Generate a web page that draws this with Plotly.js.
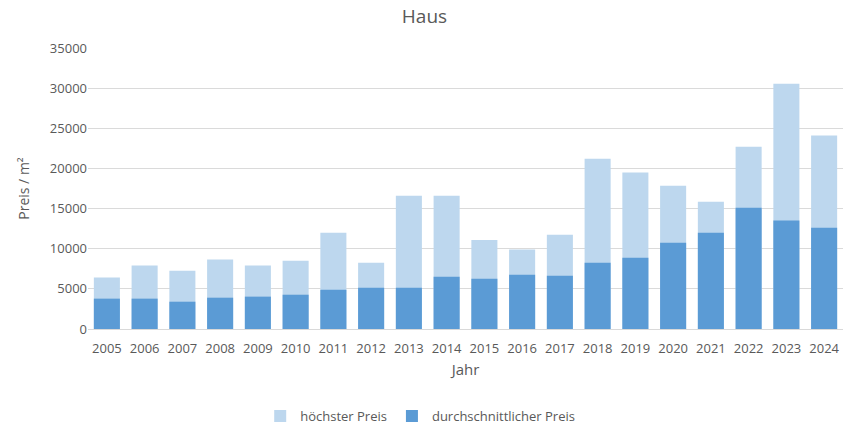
<!DOCTYPE html>
<html>
<head>
<meta charset="utf-8">
<script src="https://cdn.plot.ly/plotly-3.0.1.min.js"></script>
<style>html,body{margin:0;padding:0;background:#fff;}#chart{width:849px;height:433px;}</style>
</head>
<body>
<div id="chart"></div>
<script>
const years = ["2005","2006","2007","2008","2009","2010","2011","2012","2013","2014","2015","2016","2017","2018","2019","2020","2021","2022","2023","2024"];
const hoechsterPreis = [6400,7900,7250,8650,7900,8500,12000,8250,16600,16600,11100,9900,11750,21200,19500,17850,15850,22700,30550,24100];
const durchschnittPreis = [3780,3780,3400,3900,4030,4270,4900,5150,5150,6520,6270,6760,6640,8260,8880,10750,12000,15100,13500,12620];

const textColor = '#595959';
const font = "'Open Sans', 'Liberation Sans', sans-serif";

const traces = [
  {type:'bar', name:'höchster Preis', x:years, y:hoechsterPreis,
   marker:{color:'#BDD7EE', opacity:1, line:{width:0}}, hoverinfo:'x+y'},
  {type:'bar', name:'durchschnittlicher Preis', x:years, y:durchschnittPreis,
   marker:{color:'#5B9BD5', opacity:1, line:{width:0}}, hoverinfo:'x+y'}
];

const layout = {
  width:849, height:433,
  margin:{l:88, r:6, t:48, b:104, autoexpand:false},
  paper_bgcolor:'#fff', plot_bgcolor:'#fff',
  barmode:'overlay', bargap:0.31,
  font:{family:font, color:textColor, size:13},
  title:{text:'Haus', x:0.5, xanchor:'center', y:0.962, yanchor:'middle', font:{size:19, color:textColor, family:font}},
  xaxis:{type:'category', showgrid:false, zeroline:false, showline:true, linecolor:'#D9D9D9', linewidth:1,
         ticks:'', tickfont:{size:13, color:textColor}, ticklabelstandoff:7, tickangle:0, automargin:false,
         title:{text:'Jahr', font:{size:15, color:textColor}, standoff:8}},
  yaxis:{range:[0,35000], dtick:5000, showgrid:true, gridcolor:'#DADADA', gridwidth:1, zeroline:false,
         showline:false, ticks:'', tickfont:{size:13, color:textColor}, tickformat:'d', automargin:false,
         title:{text:'Preis / m²', font:{size:14, color:textColor}, standoff:16}},
  legend:{orientation:'h', x:0.44, xanchor:'center', y:-0.31, yanchor:'middle', traceorder:'normal',
          itemwidth:30, font:{size:13, color:textColor}},
  showlegend:true
};

Plotly.newPlot('chart', traces, layout, {displayModeBar:false, staticPlot:true});
</script>
</body>
</html>
